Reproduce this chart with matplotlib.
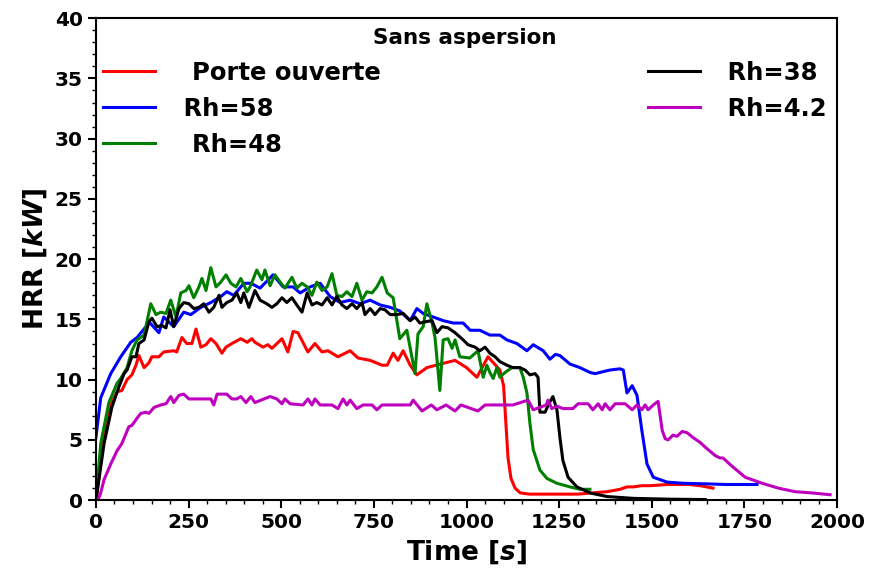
import matplotlib
matplotlib.use("Agg")
import matplotlib.pyplot as plt
from matplotlib.ticker import MultipleLocator

# ---------------- data ----------------
t_red = [0,3,16,30,43,57,70,84,97,108,116,130,143,151,170,183,210,218,232,245,
         259,270,283,297,310,324,340,351,367,391,408,421,429,451,464,475,502,518,532,545,
         572,591,610,626,653,686,707,740,772,786,802,815,829,848,866,893,930,969,1000,1028,
         1058,1090,1100,1106,1112,1120,1131,1145,1170,1225,1300,1379,1414,1433,1450,1473,1495,1541,1600,1630,
         1665]
v_red = [0,0.6,4.1,6.6,8.1,9.0,9.1,10.0,10.4,11.2,12.0,11.0,11.4,11.9,11.9,12.3,12.4,12.3,13.5,13.0,
         13.0,14.2,12.7,12.9,13.4,13.0,12.2,12.7,13.0,13.4,13.1,13.4,13.1,12.7,12.9,12.6,13.4,12.3,14.0,13.9,
         12.3,13.0,12.3,12.4,11.9,12.4,11.8,11.6,11.2,11.2,12.2,11.6,12.4,11.2,10.4,11.0,11.3,11.6,11.0,10.2,
         11.9,10.8,9.5,6.5,3.5,1.8,1.0,0.6,0.5,0.5,0.5,0.7,0.9,1.1,1.1,1.2,1.2,1.3,1.3,1.2,
         1.0]

t_blue = [0,13,40,67,94,111,135,143,170,183,210,237,256,283,310,337,353,372,399,418,
          443,478,505,532,551,578,605,632,659,686,713,740,767,794,820,848,866,883,910,937,
          964,991,1010,1036,1063,1090,1109,1136,1163,1180,1207,1225,1240,1252,1279,1306,1333,1347,1360,1387,
          1414,1423,1433,1447,1460,1473,1487,1504,1541,1585,1650,1700,1784]
v_blue = [5.2,8.5,10.5,11.9,13.1,13.5,14.4,14.8,13.9,15.2,14.4,15.6,15.4,16.0,16.4,16.9,17.3,17.0,18.0,18.0,
          17.6,18.7,17.7,17.7,17.2,17.7,18.0,16.9,16.4,16.6,16.3,16.6,16.2,16.0,15.7,14.9,15.9,15.5,15.2,14.9,
          14.7,14.7,14.1,14.1,13.7,13.7,13.3,13.0,12.4,12.9,12.4,11.7,12.1,12.0,11.3,11.0,10.6,10.5,10.6,10.8,
          10.9,10.8,8.9,9.5,8.7,5.8,3.0,1.9,1.5,1.4,1.35,1.3,1.3]

t_green = [0,13,35,57,67,84,97,111,130,148,162,175,189,202,216,229,243,251,264,278,
           286,297,310,324,337,351,364,378,391,408,416,434,448,456,470,483,497,510,529,542,
           556,570,583,596,610,624,637,650,664,677,691,704,718,731,745,758,772,786,802,820,
           839,861,869,883,893,907,915,928,937,950,961,969,982,1009,1031,1045,1055,1063,1072,1082,
           1090,1104,1123,1144,1153,1163,1171,1180,1198,1217,1244,1279,1306,1333]
v_green = [0,4.7,8.1,9.7,10.1,11.0,12.4,13.3,13.7,16.3,15.4,15.6,15.5,16.6,15.2,17.2,17.4,17.8,16.8,17.7,
           18.4,17.4,19.3,17.7,18.1,18.7,18.0,17.7,18.4,17.3,17.7,19.1,18.3,19.1,17.8,18.7,18.1,17.6,18.5,17.6,
           18.0,17.7,17.0,18.1,17.4,17.7,18.8,17.0,16.9,17.3,16.9,18.0,16.6,17.3,17.2,17.7,18.5,17.2,16.8,13.4,
           14.1,10.5,13.8,14.4,16.3,14.7,13.5,9.1,13.3,13.4,12.6,13.3,11.9,11.8,12.4,10.2,11.2,10.6,10.1,11.0,
           10.2,10.6,11.0,11.0,10.2,8.9,6.4,4.2,2.5,1.8,1.4,1.1,0.9,0.9]

t_black = [0,3,22,43,62,76,84,97,108,116,130,143,151,165,178,189,200,210,224,237,
           251,264,278,291,305,318,332,340,353,367,380,391,399,413,429,443,461,475,488,502,
           515,529,542,556,570,583,596,610,624,637,650,664,677,691,704,718,726,740,753,767,
           780,794,812,829,848,861,874,888,907,920,934,950,969,991,1004,1023,1036,1050,1063,1077,
           1090,1109,1125,1144,1158,1171,1185,1193,1198,1212,1222,1233,1244,1252,1260,1274,1298,1333,1379,1450,
           1550,1644]
v_black = [0,0.6,4.7,7.7,9.4,10.5,10.8,11.9,11.9,13.0,13.3,14.8,15.1,14.4,14.5,14.3,15.8,14.4,15.9,16.4,
           16.3,15.9,16.0,16.3,15.6,16.0,17.0,16.0,16.4,16.6,17.2,16.4,17.2,16.0,17.4,16.6,16.3,16.0,16.3,16.8,
           16.4,16.8,16.2,15.6,17.2,16.2,16.4,16.2,16.8,16.2,16.9,16.2,15.9,16.3,15.9,16.4,15.4,15.9,15.4,15.9,
           15.8,15.4,15.4,15.5,14.9,15.2,14.7,14.8,14.9,13.9,14.4,14.3,13.9,13.3,12.9,12.7,12.4,12.7,12.2,11.9,
           11.5,11.2,11.0,11.0,10.8,10.4,10.5,10.2,7.3,7.3,8.0,8.6,7.5,5.2,3.3,1.9,1.1,0.6,0.3,0.15,
           0.08,0.05]

t_mag = [5,12,22,40,57,70,89,97,111,121,135,143,157,175,189,202,210,224,237,251,
         310,318,327,353,367,380,391,405,418,429,470,488,502,510,524,559,572,583,591,605,
         637,653,667,677,686,704,721,745,758,772,848,856,880,905,920,945,969,985,1031,1050,
         1125,1166,1180,1215,1220,1230,1244,1260,1287,1301,1328,1341,1355,1366,1374,1387,1401,1428,1447,1460,
         1473,1482,1490,1504,1517,1528,1536,1544,1557,1568,1582,1595,1611,1630,1644,1671,1684,1692,1717,1752,
         1798,1841,1887,1932,1981]
v_mag = [0,0.5,1.7,3.0,4.1,4.7,6.1,6.2,6.8,7.2,7.3,7.2,7.7,7.9,8.0,8.6,8.1,8.7,8.8,8.4,
         8.4,7.9,8.8,8.8,8.4,8.4,8.6,8.1,8.6,8.1,8.6,8.4,8.0,8.4,8.0,7.9,8.4,7.9,8.4,7.9,
         7.9,7.6,8.4,7.9,8.3,7.6,7.9,7.9,7.5,7.9,7.9,8.3,7.4,7.9,7.5,7.9,7.4,7.9,7.4,7.9,
         7.9,8.3,7.5,7.9,8.3,7.6,7.8,7.6,7.6,8.0,8.0,7.5,8.0,7.5,8.0,7.5,8.0,8.0,7.5,7.9,
         7.5,7.9,7.5,7.9,8.2,5.8,5.1,5.0,5.4,5.3,5.7,5.6,5.2,4.8,4.4,3.7,3.5,3.5,2.8,1.9,
         1.4,1.0,0.7,0.6,0.45]

labels = ["  Porte ouverte", " Rh=58", "  Rh=48", " Rh=38", " Rh=4.2"]
colors = ["red", "blue", "green", "black", "m"]

x_ticks = [0, 250, 500, 750, 1000, 1250, 1500, 1750, 2000]
y_ticks = [0, 5, 10, 15, 20, 25, 30, 35, 40]

# ---------------- style ----------------
plt.rcParams['font.family'] = ['DejaVu Sans']
plt.rcParams['font.weight'] = 'bold'
plt.rcParams['mathtext.fontset'] = 'custom'
plt.rcParams['mathtext.it'] = 'DejaVu Sans:italic:bold'
plt.rcParams['mathtext.rm'] = 'DejaVu Sans:bold'

fig = plt.figure(figsize=(8.72, 5.69), dpi=100)
ax = fig.add_axes([0.110, 0.121, 0.850, 0.847])

series = [(t_red, v_red), (t_blue, v_blue), (t_green, v_green), (t_black, v_black), (t_mag, v_mag)]
for (t, v), c, lab in zip(series, colors, labels):
    ax.plot(t, v, color=c, lw=2.2, label=lab)

ax.set_xlim(0, 2000)
ax.set_ylim(0, 40)
ax.set_xticks(x_ticks)
ax.set_yticks(y_ticks)
ax.xaxis.set_minor_locator(MultipleLocator(50))
ax.yaxis.set_minor_locator(MultipleLocator(1))
ax.tick_params(which='major', length=6, width=1.5, labelsize=14.5)
ax.tick_params(which='minor', length=3, width=1.0)
for lab in ax.get_xticklabels() + ax.get_yticklabels():
    lab.set_fontweight('bold')
for s in ax.spines.values():
    s.set_linewidth(1.5)

ax.set_xlabel("Time [$s$]", fontsize=19, fontweight='bold', labelpad=4)
ax.set_ylabel("HRR [$kW$]", fontsize=19, fontweight='bold', labelpad=4)

leg = ax.legend(loc='upper left', bbox_to_anchor=(-0.004, 1.0), ncol=2, frameon=False,
                fontsize=17.5, title="Sans aspersion", title_fontproperties={'weight': 'bold', 'size': 15.5},
                handlelength=2.14, handletextpad=0.8, columnspacing=11.0, labelspacing=0.5,
                borderaxespad=0.0, borderpad=0.42)
for txt in leg.get_texts():
    txt.set_fontweight('bold')

fig.savefig("out.png", dpi=100)
